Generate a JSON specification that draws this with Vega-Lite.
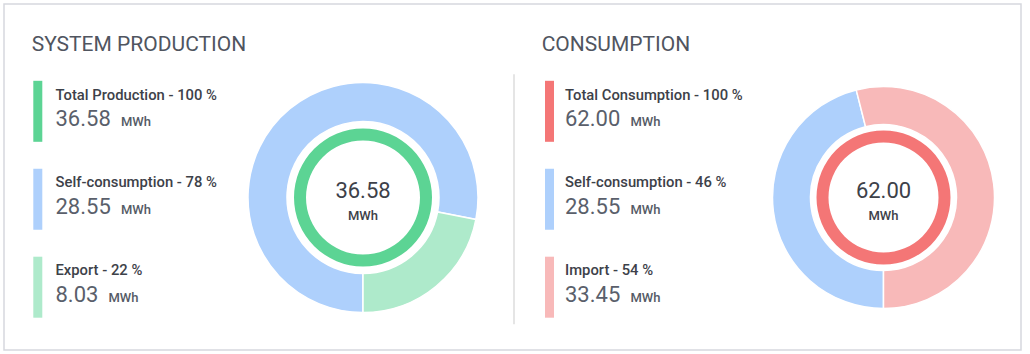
{
  "$schema": "https://vega.github.io/schema/vega-lite/v6.json",
  "width": 1030,
  "height": 354,
  "autosize": {"type": "fit", "contains": "padding"},
  "padding": {"left": 4, "top": 4, "right": 9, "bottom": 4},
  "background": "#ffffff",
  "config": {
    "font": "Roboto",
    "view": {"stroke": "#d6d8de", "strokeWidth": 1.5},
    "text": {"font": "Roboto"}
  },
  "data": {
    "values": [
      {"panel": "SYSTEM PRODUCTION", "role": "total", "item": "Total Production", "label": "Total Production - 100 %", "pct": 100, "value": 36.58},
      {"panel": "SYSTEM PRODUCTION", "role": "self", "item": "Self-consumption", "label": "Self-consumption - 78 %", "pct": 78, "value": 28.55},
      {"panel": "SYSTEM PRODUCTION", "role": "split", "item": "Export", "label": "Export - 22 %", "pct": 22, "value": 8.03},
      {"panel": "CONSUMPTION", "role": "total", "item": "Total Consumption", "label": "Total Consumption - 100 %", "pct": 100, "value": 62.00},
      {"panel": "CONSUMPTION", "role": "self", "item": "Self-consumption", "label": "Self-consumption - 46 %", "pct": 46, "value": 28.55},
      {"panel": "CONSUMPTION", "role": "split", "item": "Import", "label": "Import - 54 %", "pct": 54, "value": 33.45}
    ]
  },
  "resolve": {"scale": {"x": "independent", "y": "independent", "theta": "independent"}},
  "layer": [
    {
      "transform": [{"filter": "datum.panel == 'CONSUMPTION' && datum.role == 'self'"}],
      "mark": {"type": "rect", "width": 1.5, "height": 250, "fill": "#dddddd"},
      "encoding": {
        "x": {"field": "panel", "type": "nominal", "axis": null, "scale": {"type": "point", "padding": 0, "domain": ["SYSTEM PRODUCTION", "CONSUMPTION"], "range": [0, 510]}},
        "y": {"field": "role", "type": "nominal", "axis": null, "scale": {"type": "point", "padding": 0, "domain": ["total", "self", "split"], "range": [107.3, 283.2]}}
      }
    },
    {
      "transform": [{"filter": "datum.role == 'total'"}],
      "mark": {"type": "text", "align": "left", "baseline": "alphabetic", "dy": -60.6, "fontSize": 21, "fontWeight": 400, "color": "#50555f"},
      "encoding": {
        "text": {"field": "panel"},
        "x": {"field": "panel", "type": "nominal", "axis": null, "scale": {"type": "point", "padding": 0, "domain": ["SYSTEM PRODUCTION", "CONSUMPTION"], "range": [27.7, 537.7]}},
        "y": {"field": "role", "type": "nominal", "axis": null, "scale": {"type": "point", "padding": 0, "domain": ["total", "self", "split"], "range": [107.3, 283.2]}}
      }
    },
    {
      "mark": {"type": "rect", "width": 9, "height": 61},
      "encoding": {
        "x": {"field": "panel", "type": "nominal", "axis": null, "scale": {"type": "point", "padding": 0, "domain": ["SYSTEM PRODUCTION", "CONSUMPTION"], "range": [33.8, 545.5]}},
        "y": {"field": "role", "type": "nominal", "axis": null, "scale": {"type": "point", "padding": 0, "domain": ["total", "self", "split"], "range": [107.3, 283.2]}},
        "color": {"field": "item", "type": "nominal", "legend": null, "scale": {"domain": ["Total Production", "Self-consumption", "Export", "Total Consumption", "Import"], "range": ["#5cd494", "#aed0fc", "#aeeacb", "#f47676", "#f8b9b9"]}}
      }
    },
    {
      "mark": {"type": "text", "align": "left", "baseline": "alphabetic", "dy": -11.8, "fontSize": 14.8, "fontWeight": 500, "color": "#3d4149"},
      "encoding": {
        "text": {"field": "label"},
        "x": {"field": "panel", "type": "nominal", "axis": null, "scale": {"type": "point", "padding": 0, "domain": ["SYSTEM PRODUCTION", "CONSUMPTION"], "range": [51.5, 561]}},
        "y": {"field": "role", "type": "nominal", "axis": null, "scale": {"type": "point", "padding": 0, "domain": ["total", "self", "split"], "range": [107.3, 283.2]}}
      }
    },
    {
      "mark": {"type": "text", "align": "left", "baseline": "alphabetic", "dy": 15, "fontSize": 22, "fontWeight": 400, "color": "#5a5f6b"},
      "encoding": {
        "text": {"field": "value", "type": "quantitative", "format": ".2f"},
        "x": {"field": "panel", "type": "nominal", "axis": null, "scale": {"type": "point", "padding": 0, "domain": ["SYSTEM PRODUCTION", "CONSUMPTION"], "range": [51.5, 561]}},
        "y": {"field": "role", "type": "nominal", "axis": null, "scale": {"type": "point", "padding": 0, "domain": ["total", "self", "split"], "range": [107.3, 283.2]}}
      }
    },
    {
      "transform": [{"filter": "datum.value >= 10"}],
      "mark": {"type": "text", "align": "left", "baseline": "alphabetic", "dy": 15, "dx": 65.5, "fontSize": 13, "fontWeight": 500, "color": "#555b66"},
      "encoding": {
        "text": {"value": "MWh"},
        "x": {"field": "panel", "type": "nominal", "axis": null, "scale": {"type": "point", "padding": 0, "domain": ["SYSTEM PRODUCTION", "CONSUMPTION"], "range": [51.5, 561]}},
        "y": {"field": "role", "type": "nominal", "axis": null, "scale": {"type": "point", "padding": 0, "domain": ["total", "self", "split"], "range": [107.3, 283.2]}}
      }
    },
    {
      "transform": [{"filter": "datum.value < 10"}],
      "mark": {"type": "text", "align": "left", "baseline": "alphabetic", "dy": 15, "dx": 53, "fontSize": 13, "fontWeight": 500, "color": "#555b66"},
      "encoding": {
        "text": {"value": "MWh"},
        "x": {"field": "panel", "type": "nominal", "axis": null, "scale": {"type": "point", "padding": 0, "domain": ["SYSTEM PRODUCTION", "CONSUMPTION"], "range": [51.5, 561]}},
        "y": {"field": "role", "type": "nominal", "axis": null, "scale": {"type": "point", "padding": 0, "domain": ["total", "self", "split"], "range": [107.3, 283.2]}}
      }
    },
    {
      "transform": [{"filter": "datum.panel == 'SYSTEM PRODUCTION' && datum.role != 'total'"}],
      "mark": {"type": "arc", "radius": 115, "radius2": 76, "stroke": "#ffffff", "strokeWidth": 1.5},
      "encoding": {
        "theta": {"field": "value", "type": "quantitative", "stack": true, "scale": {"range": [3.14159265, 9.42477796]}},
        "order": {"field": "role", "type": "nominal"},
        "color": {"field": "item", "type": "nominal", "legend": null, "scale": {"domain": ["Total Production", "Self-consumption", "Export", "Total Consumption", "Import"], "range": ["#5cd494", "#aed0fc", "#aeeacb", "#f47676", "#f8b9b9"]}},
        "x": {"field": "panel", "type": "nominal", "axis": null, "scale": {"type": "point", "padding": 0, "domain": ["SYSTEM PRODUCTION", "CONSUMPTION"], "range": [359, 879.5]}},
        "y": {"field": "panel", "type": "nominal", "axis": null, "scale": {"type": "point", "padding": 0, "domain": ["SYSTEM PRODUCTION", "CONSUMPTION"], "range": [193.5, 193.5]}}
      }
    },
    {
      "transform": [{"filter": "datum.panel == 'SYSTEM PRODUCTION' && datum.role == 'total'"}],
      "mark": {"type": "arc", "radius": 69, "radius2": 57},
      "encoding": {
        "theta": {"field": "value", "type": "quantitative", "stack": true},
        "color": {"field": "item", "type": "nominal", "legend": null, "scale": {"domain": ["Total Production", "Self-consumption", "Export", "Total Consumption", "Import"], "range": ["#5cd494", "#aed0fc", "#aeeacb", "#f47676", "#f8b9b9"]}},
        "x": {"field": "panel", "type": "nominal", "axis": null, "scale": {"type": "point", "padding": 0, "domain": ["SYSTEM PRODUCTION", "CONSUMPTION"], "range": [359, 879.5]}},
        "y": {"field": "panel", "type": "nominal", "axis": null, "scale": {"type": "point", "padding": 0, "domain": ["SYSTEM PRODUCTION", "CONSUMPTION"], "range": [193.5, 193.5]}}
      }
    },
    {
      "transform": [{"filter": "datum.panel == 'CONSUMPTION' && datum.role != 'total'"}],
      "mark": {"type": "arc", "radius": 111, "radius2": 73, "stroke": "#ffffff", "strokeWidth": 1.5},
      "encoding": {
        "theta": {"field": "value", "type": "quantitative", "stack": true, "scale": {"range": [3.14159265, 9.42477796]}},
        "order": {"field": "role", "type": "nominal"},
        "color": {"field": "item", "type": "nominal", "legend": null, "scale": {"domain": ["Total Production", "Self-consumption", "Export", "Total Consumption", "Import"], "range": ["#5cd494", "#aed0fc", "#aeeacb", "#f47676", "#f8b9b9"]}},
        "x": {"field": "panel", "type": "nominal", "axis": null, "scale": {"type": "point", "padding": 0, "domain": ["SYSTEM PRODUCTION", "CONSUMPTION"], "range": [359, 879.5]}},
        "y": {"field": "panel", "type": "nominal", "axis": null, "scale": {"type": "point", "padding": 0, "domain": ["SYSTEM PRODUCTION", "CONSUMPTION"], "range": [193.5, 193.5]}}
      }
    },
    {
      "transform": [{"filter": "datum.panel == 'CONSUMPTION' && datum.role == 'total'"}],
      "mark": {"type": "arc", "radius": 67, "radius2": 55},
      "encoding": {
        "theta": {"field": "value", "type": "quantitative", "stack": true},
        "color": {"field": "item", "type": "nominal", "legend": null, "scale": {"domain": ["Total Production", "Self-consumption", "Export", "Total Consumption", "Import"], "range": ["#5cd494", "#aed0fc", "#aeeacb", "#f47676", "#f8b9b9"]}},
        "x": {"field": "panel", "type": "nominal", "axis": null, "scale": {"type": "point", "padding": 0, "domain": ["SYSTEM PRODUCTION", "CONSUMPTION"], "range": [359, 879.5]}},
        "y": {"field": "panel", "type": "nominal", "axis": null, "scale": {"type": "point", "padding": 0, "domain": ["SYSTEM PRODUCTION", "CONSUMPTION"], "range": [193.5, 193.5]}}
      }
    },
    {
      "transform": [{"filter": "datum.role == 'total'"}],
      "mark": {"type": "text", "align": "center", "baseline": "alphabetic", "dy": 0.5, "fontSize": 22, "fontWeight": 400, "color": "#3d4149"},
      "encoding": {
        "text": {"field": "value", "type": "quantitative", "format": ".2f"},
        "x": {"field": "panel", "type": "nominal", "axis": null, "scale": {"type": "point", "padding": 0, "domain": ["SYSTEM PRODUCTION", "CONSUMPTION"], "range": [359, 879.5]}},
        "y": {"field": "panel", "type": "nominal", "axis": null, "scale": {"type": "point", "padding": 0, "domain": ["SYSTEM PRODUCTION", "CONSUMPTION"], "range": [193.5, 193.5]}}
      }
    },
    {
      "transform": [{"filter": "datum.role == 'total'"}],
      "mark": {"type": "text", "align": "center", "baseline": "alphabetic", "dy": 22, "fontSize": 13, "fontWeight": 500, "color": "#3d4149"},
      "encoding": {
        "text": {"value": "MWh"},
        "x": {"field": "panel", "type": "nominal", "axis": null, "scale": {"type": "point", "padding": 0, "domain": ["SYSTEM PRODUCTION", "CONSUMPTION"], "range": [359, 879.5]}},
        "y": {"field": "panel", "type": "nominal", "axis": null, "scale": {"type": "point", "padding": 0, "domain": ["SYSTEM PRODUCTION", "CONSUMPTION"], "range": [193.5, 193.5]}}
      }
    }
  ]
}
